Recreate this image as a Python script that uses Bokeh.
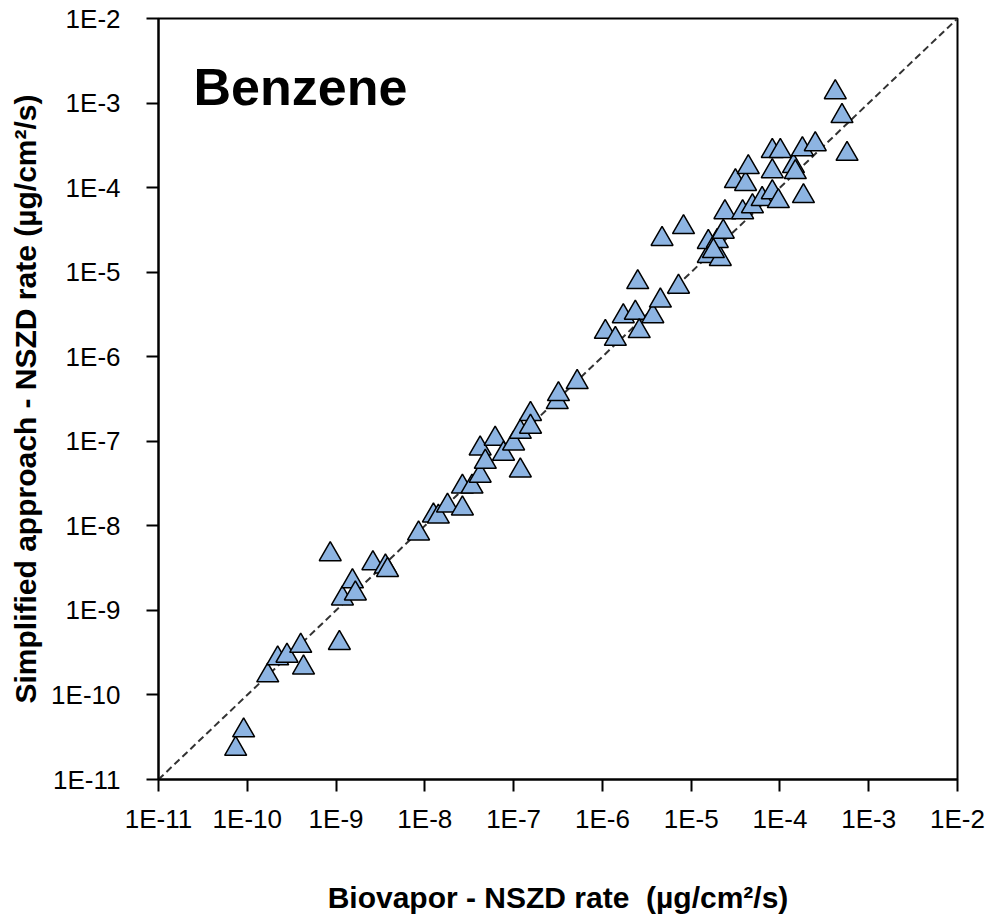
from bokeh.plotting import figure
from bokeh.models import ColumnDataSource, FixedTicker, CustomJSTickFormatter, Label, Range1d
from bokeh.embed import file_html
from bokeh.resources import INLINE

# Biovapor NSZD rate (x) vs simplified approach NSZD rate (y), ug/cm2/s
biovapor = [
    7.4e-11, 9.1e-11, 1.7e-10, 2.2e-10, 2.8e-10, 4.0e-10, 4.3e-10, 1.09e-9, 8.6e-10, 1.18e-9,
    1.53e-9, 1.65e-9, 2.6e-9, 3.6e-9, 3.8e-9, 8.5e-9, 1.25e-8, 1.42e-8, 1.8e-8, 2.65e-8,
    2.65e-8, 3.4e-8, 4.2e-8, 4.2e-8, 4.8e-8, 6.2e-8, 7.7e-8, 1.0e-7, 1.19e-7, 1.19e-7,
    1.55e-7, 1.55e-7, 3.1e-7, 3.2e-7, 5.2e-7, 1.08e-6, 1.4e-6, 1.72e-6, 2.35e-6, 2.6e-6,
    3.7e-6, 4.5e-6, 2.5e-6, 7.2e-6, 4.7e-6, 8.2e-6, 1.56e-5, 2.13e-5, 1.56e-5, 1.97e-5,
    2.3e-5, 1.78e-5, 2.4e-5, 3.8e-5, 4.9e-5, 6.3e-5, 8.2e-5, 9.6e-5, 3.15e-5, 4.1e-5,
    4.4e-5, 8.2e-5, 1.84e-4, 1.42e-4, 1.49e-4, 8.2e-5, 1.01e-4, 1.79e-4, 2.5e-4, 5.7e-4,
    5.0e-4, 4.2e-4,
]
simplified = [
    2.3e-11, 3.8e-11, 1.7e-10, 2.7e-10, 2.9e-10, 3.8e-10, 2.1e-10, 4.1e-10, 4.6e-9, 1.38e-9,
    2.2e-9, 1.58e-9, 3.6e-9, 3.3e-9, 3.0e-9, 8.1e-9, 1.32e-8, 1.28e-8, 1.73e-8, 1.6e-8,
    2.9e-8, 2.9e-8, 3.9e-8, 8.2e-8, 5.7e-8, 1.07e-7, 7.1e-8, 9.4e-8, 4.5e-8, 1.29e-7,
    2.1e-7, 1.48e-7, 2.9e-7, 3.6e-7, 5.0e-7, 1.96e-6, 1.62e-6, 3.0e-6, 3.3e-6, 2.0e-6,
    3.0e-6, 4.6e-6, 7.6e-6, 6.7e-6, 2.46e-5, 3.4e-5, 1.55e-5, 1.43e-5, 2.27e-5, 2.33e-5,
    3.0e-5, 1.77e-5, 5.1e-5, 5.1e-5, 6.0e-5, 7.3e-5, 8.8e-5, 6.9e-5, 1.19e-4, 1.1e-4,
    1.74e-4, 1.56e-4, 7.9e-5, 1.79e-4, 1.52e-4, 2.7e-4, 2.7e-4, 2.84e-4, 3.25e-4, 2.5e-4,
    7.0e-4, 1.34e-3,
]

# 1:1 reference line endpoints and axis ticks
line_ends = [1e-11, 1e-2]
tick_values = [1e-11, 1e-10, 1e-9, 1e-8, 1e-7, 1e-6, 1e-5, 1e-4, 1e-3, 1e-2]
tick_labels = ["1E-11", "1E-10", "1E-9", "1E-8", "1E-7", "1E-6", "1E-5", "1E-4", "1E-3", "1E-2"]

title_text = "Benzene"
x_title = "Biovapor - NSZD rate\u00a0\u00a0(\u00b5g/cm\u00b2/s)"
y_title = "Simplified approach - NSZD rate (\u00b5g/cm\u00b2/s)"

FONT = "Liberation Sans"

p = figure(width=994, height=916, x_axis_type="log", y_axis_type="log",
           x_range=Range1d(1e-11, 1e-2), y_range=Range1d(1e-11, 1e-2),
           output_backend="svg", toolbar_location=None,
           min_border_left=158, min_border_right=37, min_border_top=18, min_border_bottom=135)

p.background_fill_color = "white"
p.border_fill_color = "white"
p.outline_line_color = "black"
p.outline_line_width = 2
p.xgrid.visible = False
p.ygrid.visible = False

p.line(line_ends, line_ends, line_color="#333333", line_width=2, line_dash="7 4")

src = ColumnDataSource(dict(x=biovapor, y=simplified))
p.scatter("x", "y", source=src, marker="triangle", size=22,
          fill_color="#8DB4E2", line_color="black", line_width=1.5)

fmt = CustomJSTickFormatter(args=dict(labels=tick_labels),
                            code="const i = Math.round(Math.log10(tick)) + 11; return labels[i];")

for ax, lab in ((p.xaxis[0], x_title), (p.yaxis[0], y_title)):
    ax.ticker = FixedTicker(ticks=tick_values, minor_ticks=[])
    ax.formatter = fmt
    ax.axis_label = lab
    ax.axis_label_text_font = FONT
    ax.axis_label_text_font_style = "bold"
    ax.axis_label_text_font_size = "30px"
    ax.axis_label_text_color = "black"
    ax.major_label_text_font = FONT
    ax.major_label_text_font_size = "26px"
    ax.major_label_text_color = "black"
    ax.axis_line_color = "black"
    ax.axis_line_width = 2
    ax.major_tick_line_color = "black"
    ax.major_tick_line_width = 2
    ax.major_tick_out = 12
    ax.major_tick_in = 0
    ax.minor_tick_out = 0
    ax.minor_tick_in = 0

p.xaxis[0].major_label_standoff = 12
p.xaxis[0].axis_label_standoff = 44
p.yaxis[0].major_label_standoff = 26
p.yaxis[0].axis_label_standoff = 6
p.yaxis[0].major_label_orientation = "horizontal"

p.add_layout(Label(x=35, y=693, x_units="screen", y_units="screen", text=title_text,
                   text_font=FONT, text_font_style="bold", text_font_size="52px",
                   text_color="black", text_baseline="alphabetic"))

open("out.html", "w").write(file_html(p, INLINE))
